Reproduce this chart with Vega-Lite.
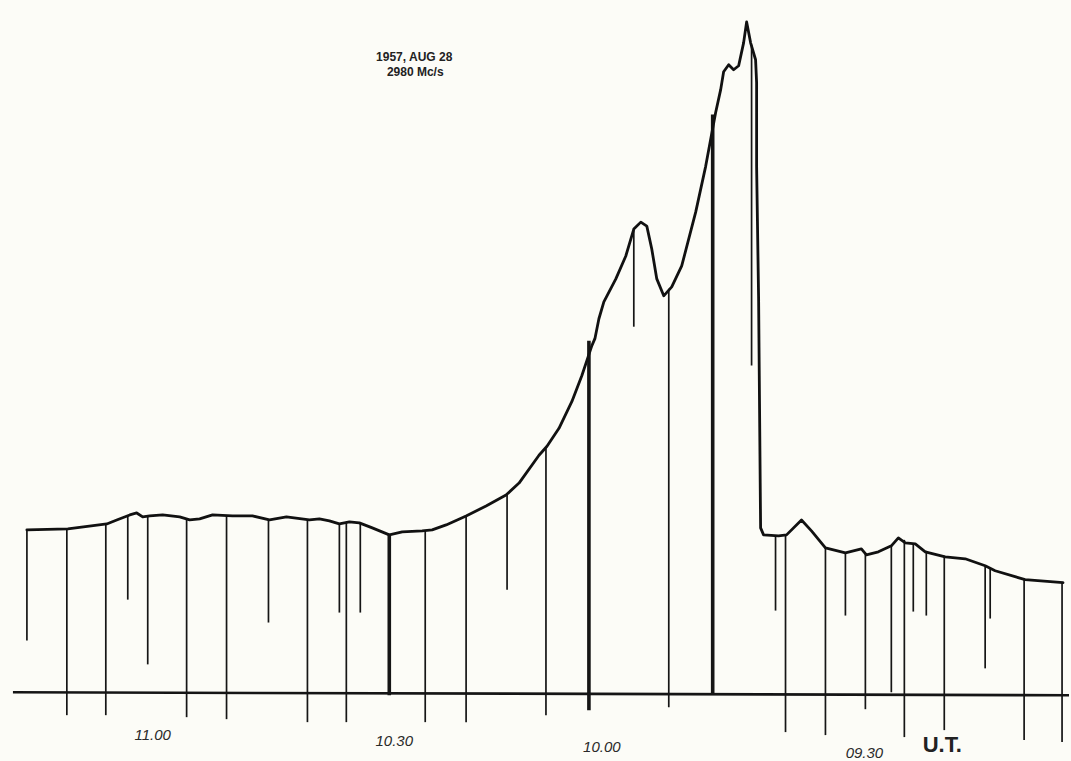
{
  "$schema": "https://vega.github.io/schema/vega-lite/v6.json",
  "width": 1071,
  "height": 761,
  "autosize": {"type": "fit", "contains": "padding"},
  "padding": 0,
  "background": "#fcfcf7",
  "config": {"view": {"stroke": null}},
  "datasets": {
    "curve": [
      {"seq": 1, "t": 674.88, "v": 32.6}, {"seq": 2, "t": 669.75, "v": 32.8}, {"seq": 3, "t": 664.88, "v": 33.8},
      {"seq": 4, "t": 663.63, "v": 34.6}, {"seq": 5, "t": 662.0, "v": 35.6}, {"seq": 6, "t": 661.13, "v": 36.0},
      {"seq": 7, "t": 660.38, "v": 35.2}, {"seq": 8, "t": 659.5, "v": 35.4}, {"seq": 9, "t": 657.88, "v": 35.6},
      {"seq": 10, "t": 655.75, "v": 35.2}, {"seq": 11, "t": 654.5, "v": 34.6}, {"seq": 12, "t": 653.25, "v": 34.8},
      {"seq": 13, "t": 651.63, "v": 35.6}, {"seq": 14, "t": 649.13, "v": 35.4}, {"seq": 15, "t": 646.63, "v": 35.4},
      {"seq": 16, "t": 644.5, "v": 34.6}, {"seq": 17, "t": 642.38, "v": 35.2}, {"seq": 18, "t": 639.5, "v": 34.6},
      {"seq": 19, "t": 638.25, "v": 34.8}, {"seq": 20, "t": 637.0, "v": 34.4}, {"seq": 21, "t": 635.75, "v": 33.8},
      {"seq": 22, "t": 634.5, "v": 34.2}, {"seq": 23, "t": 633.25, "v": 34.0}, {"seq": 24, "t": 631.63, "v": 33.0},
      {"seq": 25, "t": 629.5, "v": 31.6}, {"seq": 26, "t": 627.88, "v": 32.2}, {"seq": 27, "t": 625.38, "v": 32.4},
      {"seq": 28, "t": 624.13, "v": 32.6}, {"seq": 29, "t": 622.38, "v": 33.6}, {"seq": 30, "t": 619.88, "v": 35.4},
      {"seq": 31, "t": 617.38, "v": 37.4}, {"seq": 32, "t": 614.88, "v": 39.6}, {"seq": 33, "t": 613.25, "v": 42.0},
      {"seq": 34, "t": 610.75, "v": 47.6}, {"seq": 35, "t": 609.75, "v": 49.4}, {"seq": 36, "t": 608.25, "v": 53.0},
      {"seq": 37, "t": 606.63, "v": 58.4}, {"seq": 38, "t": 605.38, "v": 63.6}, {"seq": 39, "t": 604.13, "v": 69.6},
      {"seq": 40, "t": 603.75, "v": 71.0}, {"seq": 41, "t": 603.25, "v": 75.0}, {"seq": 42, "t": 602.63, "v": 78.4},
      {"seq": 43, "t": 601.13, "v": 83.0}, {"seq": 44, "t": 599.88, "v": 87.6}, {"seq": 45, "t": 598.88, "v": 93.0},
      {"seq": 46, "t": 598.0, "v": 94.4}, {"seq": 47, "t": 597.25, "v": 93.6}, {"seq": 48, "t": 596.63, "v": 89.0},
      {"seq": 49, "t": 596.0, "v": 83.0}, {"seq": 50, "t": 595.13, "v": 79.6}, {"seq": 51, "t": 594.13, "v": 81.4},
      {"seq": 52, "t": 592.88, "v": 85.6}, {"seq": 53, "t": 591.13, "v": 96.4}, {"seq": 54, "t": 589.88, "v": 105.6},
      {"seq": 55, "t": 588.63, "v": 116.4}, {"seq": 56, "t": 588.0, "v": 121.0}, {"seq": 57, "t": 587.63, "v": 124.6},
      {"seq": 58, "t": 587.0, "v": 126.0}, {"seq": 59, "t": 586.38, "v": 125.0}, {"seq": 60, "t": 585.75, "v": 125.8},
      {"seq": 61, "t": 585.13, "v": 130.4}, {"seq": 62, "t": 584.75, "v": 134.6}, {"seq": 63, "t": 584.25, "v": 130.4},
      {"seq": 64, "t": 583.63, "v": 127.0}, {"seq": 65, "t": 583.5, "v": 122.4}, {"seq": 66, "t": 583.5, "v": 105.6},
      {"seq": 67, "t": 583.25, "v": 79.0}, {"seq": 68, "t": 583.0, "v": 33.0}, {"seq": 69, "t": 582.63, "v": 31.6},
      {"seq": 70, "t": 580.75, "v": 31.4}, {"seq": 71, "t": 579.75, "v": 31.6}, {"seq": 72, "t": 577.88, "v": 34.6},
      {"seq": 73, "t": 576.63, "v": 32.4}, {"seq": 74, "t": 574.88, "v": 29.0}, {"seq": 75, "t": 572.38, "v": 28.0},
      {"seq": 76, "t": 570.38, "v": 28.8}, {"seq": 77, "t": 569.75, "v": 27.6}, {"seq": 78, "t": 568.25, "v": 28.2},
      {"seq": 79, "t": 566.63, "v": 29.4}, {"seq": 80, "t": 565.75, "v": 31.0}, {"seq": 81, "t": 564.88, "v": 30.0},
      {"seq": 82, "t": 563.63, "v": 29.8}, {"seq": 83, "t": 562.38, "v": 28.2}, {"seq": 84, "t": 559.88, "v": 27.2},
      {"seq": 85, "t": 557.38, "v": 26.8}, {"seq": 86, "t": 554.88, "v": 25.4}, {"seq": 87, "t": 553.63, "v": 24.4},
      {"seq": 88, "t": 549.88, "v": 22.6}, {"seq": 89, "t": 545.13, "v": 22.0}
    ],
    "marks": [
      {"t": 674.88, "top": 32.6, "bottom": 10.4, "kind": "fine"},
      {"t": 669.88, "top": 32.8, "bottom": -4.6, "kind": "fine"},
      {"t": 665.0, "top": 33.8, "bottom": -4.6, "kind": "fine"},
      {"t": 662.25, "top": 35.4, "bottom": 18.6, "kind": "fine"},
      {"t": 659.75, "top": 35.4, "bottom": 5.6, "kind": "fine"},
      {"t": 654.88, "top": 34.8, "bottom": -5.0, "kind": "fine"},
      {"t": 649.88, "top": 35.4, "bottom": -5.4, "kind": "fine"},
      {"t": 644.63, "top": 34.6, "bottom": 14.0, "kind": "fine"},
      {"t": 639.75, "top": 34.6, "bottom": -6.0, "kind": "fine"},
      {"t": 635.75, "top": 33.8, "bottom": 16.0, "kind": "fine"},
      {"t": 634.88, "top": 34.2, "bottom": -6.0, "kind": "fine"},
      {"t": 633.13, "top": 34.0, "bottom": 16.0, "kind": "fine"},
      {"t": 629.5, "top": 31.6, "bottom": -0.6, "kind": "heavy"},
      {"t": 625.0, "top": 32.4, "bottom": -6.0, "kind": "fine"},
      {"t": 619.88, "top": 35.4, "bottom": -6.0, "kind": "fine"},
      {"t": 614.75, "top": 39.6, "bottom": 20.6, "kind": "fine"},
      {"t": 609.88, "top": 49.0, "bottom": -4.6, "kind": "fine"},
      {"t": 604.5, "top": 70.6, "bottom": -3.6, "kind": "heavy"},
      {"t": 598.88, "top": 93.0, "bottom": 73.4, "kind": "fine"},
      {"t": 594.5, "top": 81.0, "bottom": -3.0, "kind": "fine"},
      {"t": 589.0, "top": 116.0, "bottom": -0.4, "kind": "heavy"},
      {"t": 584.13, "top": 130.0, "bottom": 65.6, "kind": "fine"},
      {"t": 581.13, "top": 31.4, "bottom": 16.4, "kind": "fine"},
      {"t": 579.88, "top": 31.6, "bottom": -8.0, "kind": "fine"},
      {"t": 574.88, "top": 29.0, "bottom": -8.6, "kind": "fine"},
      {"t": 572.38, "top": 28.0, "bottom": 15.4, "kind": "fine"},
      {"t": 569.88, "top": 27.8, "bottom": -3.4, "kind": "fine"},
      {"t": 566.63, "top": 29.4, "bottom": 0.0, "kind": "fine"},
      {"t": 565.0, "top": 30.6, "bottom": -9.0, "kind": "fine"},
      {"t": 563.88, "top": 29.8, "bottom": 16.2, "kind": "fine"},
      {"t": 562.25, "top": 28.4, "bottom": 15.4, "kind": "fine"},
      {"t": 560.0, "top": 27.4, "bottom": -7.6, "kind": "fine"},
      {"t": 554.88, "top": 25.4, "bottom": 4.8, "kind": "fine"},
      {"t": 554.25, "top": 25.0, "bottom": 14.8, "kind": "fine"},
      {"t": 550.0, "top": 22.6, "bottom": -9.6, "kind": "fine"},
      {"t": 545.25, "top": 22.0, "bottom": -10.0, "kind": "fine"}
    ],
    "base": [
      {"t1": 676.63, "t2": 544.38, "v1": 0.0, "v2": -0.6}
    ],
    "labels": [
      {"role": "time", "label": "11.00", "t": 659.13, "v": -8.6},
      {"role": "time", "label": "10.30", "t": 628.88, "v": -9.8},
      {"role": "time", "label": "10.00", "t": 602.88, "v": -11.0},
      {"role": "time", "label": "09.30", "t": 570.0, "v": -12.2},
      {"role": "unit", "label": "U.T.", "t": 560.25, "v": -10.6},
      {"role": "title", "label": "1957, AUG 28", "t": 626.38, "v": 127.6},
      {"role": "title", "label": "2980 Mc/s", "t": 626.25, "v": 124.6}
    ]
  },
  "layer": [
    {
      "data": {"name": "marks"},
      "mark": {"type": "rule", "color": "#151515"},
      "encoding": {
        "x": {"field": "t", "type": "quantitative", "scale": {"domain": [544.38, 678.25], "reverse": true, "nice": false, "zero": false}, "axis": null},
        "y": {"field": "top", "type": "quantitative", "scale": {"domain": [-13.2, 139], "nice": false, "zero": false}, "axis": null},
        "y2": {"field": "bottom"},
        "strokeWidth": {"field": "kind", "type": "nominal", "scale": {"domain": ["fine", "heavy"], "range": [1.7, 3.6]}, "legend": null}
      }
    },
    {
      "data": {"name": "base"},
      "mark": {"type": "rule", "color": "#151515", "strokeWidth": 2.6},
      "encoding": {
        "x": {"field": "t1", "type": "quantitative"},
        "x2": {"field": "t2"},
        "y": {"field": "v1", "type": "quantitative"},
        "y2": {"field": "v2"}
      }
    },
    {
      "data": {"name": "curve"},
      "mark": {"type": "line", "color": "#111111", "strokeWidth": 2.8, "strokeJoin": "round", "strokeCap": "round"},
      "encoding": {
        "x": {"field": "t", "type": "quantitative"},
        "y": {"field": "v", "type": "quantitative"},
        "order": {"field": "seq", "type": "quantitative"}
      }
    },
    {
      "data": {"name": "labels"},
      "transform": [{"filter": "datum.role === 'time'"}],
      "mark": {"type": "text", "font": "Liberation Sans", "fontSize": 15, "fontStyle": "italic", "color": "#2a2a2a", "align": "center", "baseline": "middle"},
      "encoding": {
        "x": {"field": "t", "type": "quantitative"},
        "y": {"field": "v", "type": "quantitative"},
        "text": {"field": "label", "type": "nominal"}
      }
    },
    {
      "data": {"name": "labels"},
      "transform": [{"filter": "datum.role === 'unit'"}],
      "mark": {"type": "text", "font": "Liberation Sans", "fontSize": 22, "fontWeight": "bold", "color": "#222222", "align": "center", "baseline": "middle"},
      "encoding": {
        "x": {"field": "t", "type": "quantitative"},
        "y": {"field": "v", "type": "quantitative"},
        "text": {"field": "label", "type": "nominal"}
      }
    },
    {
      "data": {"name": "labels"},
      "transform": [{"filter": "datum.role === 'title'"}],
      "mark": {"type": "text", "font": "Liberation Sans", "fontSize": 12, "fontWeight": "bold", "color": "#222222", "align": "center", "baseline": "middle"},
      "encoding": {
        "x": {"field": "t", "type": "quantitative"},
        "y": {"field": "v", "type": "quantitative"},
        "text": {"field": "label", "type": "nominal"}
      }
    }
  ]
}
